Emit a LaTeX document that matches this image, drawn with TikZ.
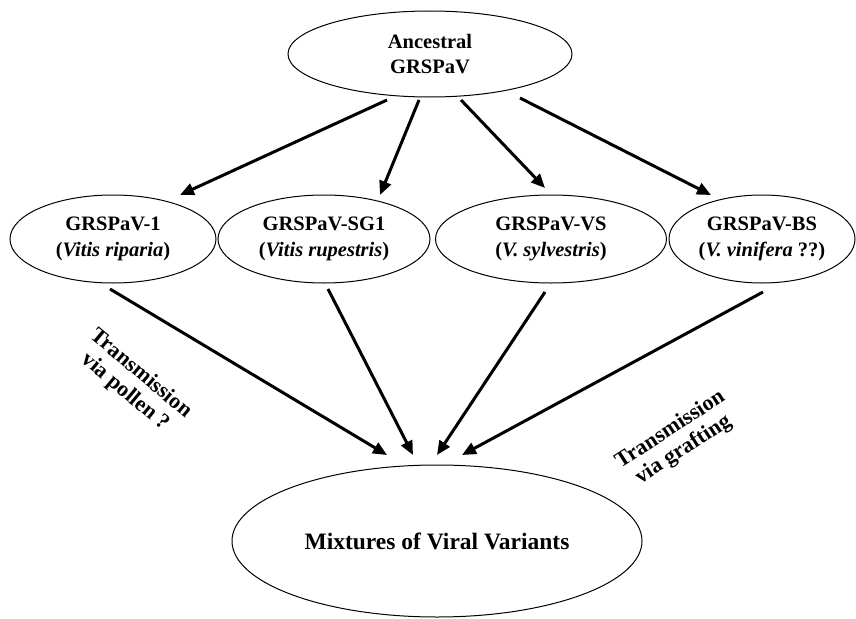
\documentclass[tikz,border=0pt]{standalone}
\usepackage{fontspec}
\setmainfont{Liberation Serif}
\usetikzlibrary{arrows.meta,calc,shapes.geometric}
\begin{document}
\begin{tikzpicture}[x=1pt,y=-1pt,
  ell/.style={draw,ellipse,line width=1pt,inner sep=0pt,align=center,
    font=\fontsize{20.5}{26}\selectfont\bfseries},
  arr/.style={line width=3pt,-{Triangle[length=14pt,width=12pt]}},
  lbl/.style={align=center,font=\fontsize{22}{24}\selectfont\bfseries}]
\useasboundingbox (0,0) rectangle (856,618);
\node[ell,minimum width=284pt,minimum height=86pt,font=\fontsize{20.5}{25}\selectfont\bfseries] (anc) at (430,54) {Ancestral\\GRSPaV};
\node[ell,minimum width=206pt,minimum height=88pt] (n1) at (113,239) {GRSPaV-1\\(\textit{Vitis riparia})};
\node[ell,minimum width=212pt,minimum height=88pt] (n2) at (324,239) {GRSPaV-SG1\\(\textit{Vitis rupestris})};
\node[ell,minimum width=231pt,minimum height=88pt] (n3) at (551,239) {GRSPaV-VS\\(\textit{V. sylvestris})};
\node[ell,minimum width=186pt,minimum height=88pt] (n4) at (762,239) {GRSPaV-BS\\(\textit{V. vinifera} ??)};
\node[ell,minimum width=410pt,minimum height=152pt,font=\fontsize{23.5}{26}\selectfont\bfseries] (mix) at (437,541) {Mixtures of Viral Variants};
\node[lbl,rotate=-40] (pol) at (133,383) {Transmission\\via pollen ?};
\node[lbl,rotate=33] (gra) at (677,440) {Transmission\\via grafting};
% top arrows
\draw[arr] ($(anc)+(-43,46)$) -- ($(n1)+(67,-44)$);
\draw[arr] ($(anc)+(-11,46)$) -- ($(n2)+(56,-44)$);
\draw[arr] ($(anc)+(31,46)$) -- ($(n3)+(-6,-51)$);
\draw[arr] ($(anc)+(90,44)$) -- ($(n4)+(-51,-44)$);
% bottom arrows
\draw[arr] ($(n1)+(-3,50)$) -- ($(mix)+(-50,-86)$);
\draw[arr] ($(n2)+(4,50)$) -- ($(mix)+(-24,-86)$);
\draw[arr] ($(n3)+(-6,53)$) -- ($(mix)+(0,-86)$);
\draw[arr] ($(n4)+(1,53)$) -- ($(mix)+(25,-86)$);
\end{tikzpicture}
\end{document}
